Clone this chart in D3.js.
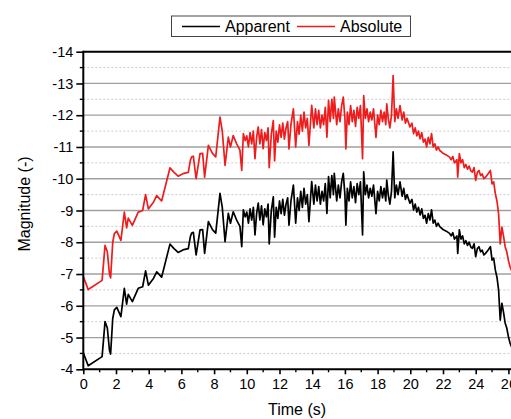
<!DOCTYPE html>
<html>
<head>
<meta charset="utf-8">
<script src="https://cdn.jsdelivr.net/npm/d3@7"></script>
<style>
  html, body { margin: 0; padding: 0; background: #fff; }
  svg { display: block; font-family: "Liberation Sans", Arial, sans-serif; }
</style>
</head>
<body>
<svg id="chart" width="511" height="419"></svg>
<script>
// ---- data ----
const seriesNames = ["Apparent", "Absolute"];
const timeValues = [
  0.0,0.3,1.15,1.33,1.47,1.60,1.67,1.80,1.90,2.05,2.30,2.51,2.65,2.75,3.00,3.36,3.63,3.81,3.98,4.30,
  4.49,4.79,5.30,5.55,5.80,6.15,6.42,6.55,6.63,6.73,6.90,7.14,7.30,7.42,7.65,7.90,8.10,8.36,8.50,8.67,
  8.87,9.00,9.17,9.38,9.58,9.69,9.79,9.90,10.0,10.1,10.2,10.3,10.4,10.5,10.6,10.7,10.8,10.9,11.0,11.1,
  11.2,11.3,11.37,11.5,11.62,11.7,11.8,11.9,12.0,12.1,12.2,12.3,12.4,12.5,12.58,12.7,12.85,12.99,13.1,13.2,
  13.3,13.4,13.5,13.6,13.7,13.8,13.9,13.97,14.1,14.2,14.3,14.4,14.5,14.6,14.7,14.8,14.9,15.0,15.1,15.2,
  15.3,15.35,15.5,15.6,15.7,15.8,15.9,16.0,16.06,16.15,16.25,16.35,16.45,16.55,16.65,16.75,16.85,16.95,17.08,17.15,
  17.25,17.35,17.45,17.55,17.65,17.75,17.9,18.0,18.1,18.2,18.3,18.4,18.5,18.56,18.65,18.75,18.85,18.95,19.05,19.15,
  19.25,19.37,19.5,19.6,19.7,19.8,19.98,20.1,20.2,20.3,20.4,20.5,20.6,20.7,20.8,20.9,21.0,21.1,21.2,21.3,
  21.4,21.5,21.6,21.7,21.8,21.9,22.0,22.2,22.4,22.5,22.6,22.7,22.85,22.9,23.0,23.1,23.2,23.3,23.4,23.5,
  23.6,23.7,23.8,23.9,24.0,24.1,24.2,24.3,24.4,24.5,24.6,24.75,24.9,25.0,25.1,25.2,25.3,25.4,25.5,25.6,
  25.7,25.8,25.9,26.0,26.1,26.2
];
const apparentValues = [
  -4.52,-4.11,-4.40,-5.50,-5.30,-4.60,-4.48,-5.60,-5.87,-5.95,-5.66,-6.55,-6.05,-6.36,-6.13,-6.55,-6.60,-7.10,-6.65,-6.87,
  -7.07,-6.90,-7.94,-7.80,-7.68,-7.77,-7.80,-8.18,-8.29,-8.31,-7.60,-8.39,-8.40,-7.65,-8.65,-8.40,-8.29,-9.54,-9.10,-8.02,
  -8.91,-8.60,-8.96,-8.70,-8.50,-7.86,-9.02,-8.80,-8.95,-8.60,-9.05,-8.70,-9.10,-8.23,-8.90,-9.23,-8.70,-9.15,-8.55,-9.05,
  -8.80,-9.20,-7.95,-9.00,-9.43,-8.16,-9.10,-8.75,-9.30,-8.90,-9.35,-8.85,-9.20,-9.40,-8.54,-9.30,-9.80,-8.60,-9.40,-9.00,
  -9.60,-9.10,-9.70,-9.20,-9.50,-8.65,-9.40,-9.91,-9.20,-9.80,-9.30,-9.75,-9.20,-9.60,-9.30,-9.85,-8.91,-10.07,-9.40,-10.10,
  -9.50,-10.17,-9.30,-9.80,-9.40,-9.90,-10.17,-9.50,-8.54,-9.70,-9.30,-9.90,-9.40,-9.75,-9.25,-9.85,-9.50,-9.90,-8.23,-10.22,
  -9.50,-9.80,-9.40,-9.70,-9.45,-9.80,-8.90,-9.60,-9.30,-9.75,-9.40,-9.70,-9.30,-9.96,-9.50,-9.20,-9.60,-10.85,-9.40,-9.80,
  -9.50,-9.90,-9.45,-9.70,-9.35,-9.50,-9.23,-9.35,-9.02,-9.20,-8.95,-9.10,-8.86,-9.05,-8.75,-8.85,-8.60,-8.90,-8.70,-9.02,
  -8.60,-8.70,-8.50,-8.60,-8.49,-8.45,-8.40,-8.35,-8.28,-8.20,-8.30,-8.10,-8.20,-7.65,-8.39,-8.10,-8.20,-7.95,-8.05,-7.90,
  -8.00,-7.85,-7.81,-7.95,-7.55,-7.80,-7.86,-7.70,-7.75,-7.60,-7.65,-7.75,-7.86,-7.44,-7.50,-7.13,-6.90,-6.50,-5.55,-6.08,
  -5.80,-5.46,-5.30,-5.03,-4.83,-4.70
];
const absoluteValues = [
  -6.92,-6.51,-6.80,-7.90,-7.70,-7.00,-6.88,-8.00,-8.27,-8.35,-8.06,-8.95,-8.45,-8.76,-8.53,-8.95,-9.00,-9.50,-9.05,-9.27,
  -9.47,-9.30,-10.34,-10.20,-10.08,-10.17,-10.20,-10.58,-10.69,-10.71,-10.00,-10.79,-10.80,-10.05,-11.05,-10.80,-10.69,-11.94,-11.50,-10.42,
  -11.31,-11.00,-11.36,-11.10,-10.90,-10.26,-11.42,-11.20,-11.35,-11.00,-11.45,-11.10,-11.50,-10.63,-11.30,-11.63,-11.10,-11.55,-10.95,-11.45,
  -11.20,-11.60,-10.35,-11.40,-11.83,-10.56,-11.50,-11.15,-11.70,-11.30,-11.75,-11.25,-11.60,-11.80,-10.94,-11.70,-12.20,-11.00,-11.80,-11.40,
  -12.00,-11.50,-12.10,-11.60,-11.90,-11.05,-11.80,-12.31,-11.60,-12.20,-11.70,-12.15,-11.60,-12.00,-11.70,-12.25,-11.31,-12.47,-11.80,-12.50,
  -11.90,-12.57,-11.70,-12.20,-11.80,-12.30,-12.57,-11.90,-10.94,-12.10,-11.70,-12.30,-11.80,-12.15,-11.65,-12.25,-11.90,-12.30,-10.63,-12.62,
  -11.90,-12.20,-11.80,-12.10,-11.85,-12.20,-11.30,-12.00,-11.70,-12.15,-11.80,-12.10,-11.70,-12.36,-11.90,-11.60,-12.00,-13.25,-11.80,-12.20,
  -11.90,-12.30,-11.85,-12.10,-11.75,-11.90,-11.63,-11.75,-11.42,-11.60,-11.35,-11.50,-11.26,-11.45,-11.15,-11.25,-11.00,-11.30,-11.10,-11.42,
  -11.00,-11.10,-10.90,-11.00,-10.89,-10.85,-10.80,-10.75,-10.68,-10.60,-10.70,-10.50,-10.60,-10.05,-10.79,-10.50,-10.60,-10.35,-10.45,-10.30,
  -10.40,-10.25,-10.21,-10.35,-9.95,-10.20,-10.26,-10.10,-10.15,-10.00,-10.05,-10.15,-10.26,-9.84,-9.90,-9.53,-9.30,-8.90,-7.95,-8.48,
  -8.20,-7.86,-7.70,-7.43,-7.23,-7.10
];
const xTickValues = [0,2,4,6,8,10,12,14,16,18,20,22,24,26];
const xMinorTicks = [1,3,5,7,9,11,13,15,17,19,21,23,25];
const yTickValues = [-4,-5,-6,-7,-8,-9,-10,-11,-12,-13,-14];
const yMinorTicks = [-4.5,-5.5,-6.5,-7.5,-8.5,-9.5,-10.5,-11.5,-12.5,-13.5];
const xTitle = "Time (s)";
const yTitle = "Magnitude (-)";

// ---- layout ----
const svg = d3.select("#chart");
const plotLeft = 83.3, plotTop = 51.7, plotBottom = 369.3;
const x = d3.scaleLinear().domain([0, 26]).range([plotLeft, 508.4]);
const xRight = x(27);
const y = d3.scaleLinear().domain([-4, -14]).range([plotBottom, plotTop]);

// grid
svg.append("g").selectAll("line").data(yTickValues.filter(v => v !== -4 && v !== -14)).join("line")
  .attr("x1", plotLeft).attr("x2", xRight).attr("y1", d => y(d)).attr("y2", d => y(d))
  .attr("stroke", "#a0a0a0").attr("stroke-width", 1.3);
svg.append("g").selectAll("line").data(yMinorTicks).join("line")
  .attr("x1", plotLeft).attr("x2", xRight).attr("y1", d => y(d)).attr("y2", d => y(d))
  .attr("stroke", "#cccccc").attr("stroke-width", 1).attr("stroke-dasharray", "2,2");

// clip
svg.append("clipPath").attr("id", "clip").append("rect")
  .attr("x", plotLeft).attr("y", plotTop).attr("width", xRight - plotLeft).attr("height", plotBottom - plotTop);

const line = vals => d3.line().x((d, i) => x(timeValues[i])).y(d => y(d))(vals);
const g = svg.append("g").attr("clip-path", "url(#clip)");
g.append("path").attr("d", line(absoluteValues)).attr("fill", "none")
  .attr("stroke", "#ee1c1c").attr("stroke-width", 1.7).attr("stroke-linejoin", "round");
g.append("path").attr("d", line(apparentValues)).attr("fill", "none")
  .attr("stroke", "#000").attr("stroke-width", 1.7).attr("stroke-linejoin", "round");

const fmt = d => String(d);

// axes
const xAxis = d3.axisBottom(x).tickValues(xTickValues).tickSize(5).tickPadding(4).tickFormat(fmt);
const gx = svg.append("g").attr("transform", `translate(0,${plotBottom})`).call(xAxis);
gx.select(".domain").remove();
gx.selectAll(".tick line").attr("stroke-width", 1.6);
gx.selectAll("text").attr("font-size", 14.5).attr("fill", "#000");
svg.append("g").selectAll("line").data(xMinorTicks).join("line")
  .attr("x1", d => x(d)).attr("x2", d => x(d)).attr("y1", plotBottom).attr("y2", plotBottom + 3)
  .attr("stroke", "#000").attr("stroke-width", 1.4);

const yAxis = d3.axisLeft(y).tickValues(yTickValues).tickSize(7).tickPadding(3).tickFormat(fmt);
const gy = svg.append("g").attr("transform", `translate(${plotLeft},0)`).call(yAxis);
gy.select(".domain").remove();
gy.selectAll(".tick line").attr("stroke-width", 1.6);
gy.selectAll("text").attr("font-size", 14.5).attr("fill", "#000");
svg.append("g").selectAll("line").data(yMinorTicks).join("line")
  .attr("x1", plotLeft - 3.5).attr("x2", plotLeft).attr("y1", d => y(d)).attr("y2", d => y(d))
  .attr("stroke", "#000").attr("stroke-width", 1.4);

// frame lines
svg.append("line").attr("x1", plotLeft).attr("x2", xRight).attr("y1", plotTop).attr("y2", plotTop)
  .attr("stroke", "#000").attr("stroke-width", 2);
svg.append("line").attr("x1", plotLeft).attr("x2", xRight).attr("y1", plotBottom).attr("y2", plotBottom)
  .attr("stroke", "#000").attr("stroke-width", 2);
svg.append("line").attr("x1", plotLeft).attr("x2", plotLeft).attr("y1", plotTop - 1).attr("y2", plotBottom + 1)
  .attr("stroke", "#000").attr("stroke-width", 2);

// titles
svg.append("text").attr("x", 297).attr("y", 415).attr("text-anchor", "middle")
  .attr("font-size", 16).text(xTitle);
svg.append("text").attr("transform", "translate(30,204) rotate(-90)").attr("text-anchor", "middle")
  .attr("font-size", 16).text(yTitle);

// legend
const lg = svg.append("g");
lg.append("rect").attr("x", 171.5).attr("y", 16).attr("width", 239).attr("height", 20.5)
  .attr("fill", "#fff").attr("stroke", "#444").attr("stroke-width", 1);
const legendColors = ["#000", "#ee1c1c"];
const legendX = [182, 297];
seriesNames.forEach((name, i) => {
  lg.append("line").attr("x1", legendX[i]).attr("x2", legendX[i] + 38).attr("y1", 26.5).attr("y2", 26.5)
    .attr("stroke", legendColors[i]).attr("stroke-width", 1.4);
  lg.append("text").attr("x", legendX[i] + 43).attr("y", 32).attr("font-size", 16).text(name);
});
</script>
</body>
</html>
